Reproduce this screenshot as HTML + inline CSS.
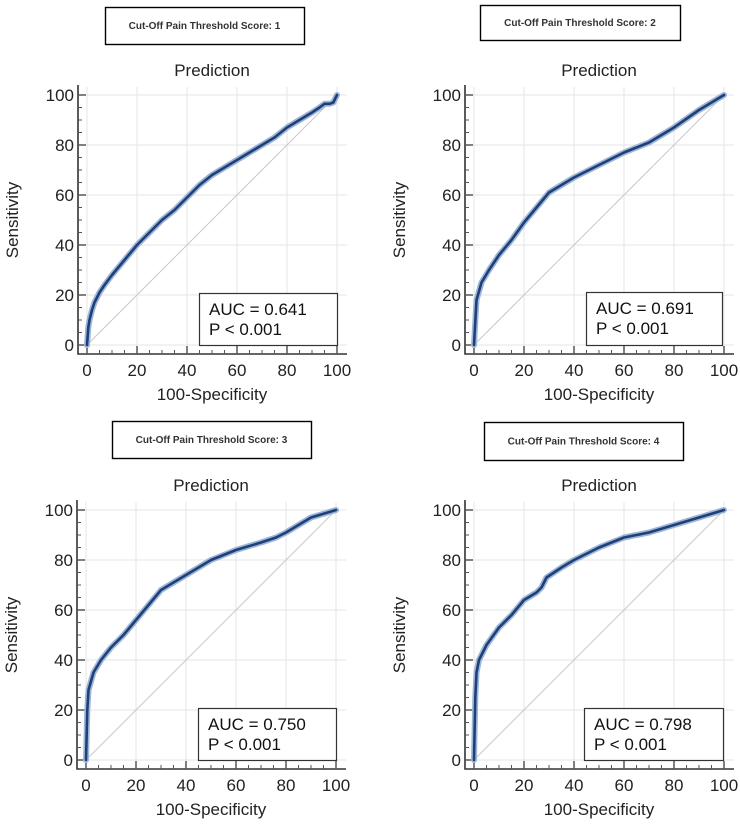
<!DOCTYPE html>
<html><head><meta charset="utf-8">
<style>
body{margin:0;background:#fff;width:740px;height:824px;overflow:hidden;font-family:"Liberation Sans",Arial,sans-serif;}
</style></head>
<body>
<svg id="chart" width="740" height="824" xmlns="http://www.w3.org/2000/svg"></svg>
<script>
// Data: ROC curves (100-specificity, sensitivity) for each cut-off score
const cutoffScores = [1, 2, 3, 4];
const aucValues = ["0.641", "0.691", "0.750", "0.798"];
const pValues = ["< 0.001", "< 0.001", "< 0.001", "< 0.001"];
const xTicks = [0, 20, 40, 60, 80, 100];
const yTicks = [0, 20, 40, 60, 80, 100];
const fpr1 = [0,0.5,1,2,3,5,7,10,15,20,25,30,35,40,45,50,55,60,65,70,75,80,85,90,93,95,97,98.5,100];
const tpr1 = [0,7,10,14,17,21,24,28,34,40,45,50,54,59,64,68,71,74,77,80,83,87,90,93,95,96.5,96.5,97,100];
const fpr2 = [0,1,3,6,10,15,20,25,30,40,50,60,70,80,90,95,100];
const tpr2 = [0,18,25,30,36,42,49,55,61,67,72,77,81,87,94,97,100];
const fpr3 = [0,0.5,1,3,6,10,15,20,25,30,40,50,60,70,76,80,90,100];
const tpr3 = [0,20,28,35,40,45,50,56,62,68,74,80,84,87,89,91,97,100];
const fpr4 = [0,0.5,1,2,5,10,15,20,25,27,29,35,40,50,60,70,80,90,100];
const tpr4 = [0,25,35,40,46,53,58,64,67,69,73,77,80,85,89,91,94,97,100];
const fprs = [fpr1, fpr2, fpr3, fpr4];
const tprs = [tpr1, tpr2, tpr3, tpr4];

const layouts = [
  {ox:87, oy:345, hb:[105,7,199,37], ty:70, ab:[199,293,138,52]},
  {ox:474, oy:345, hb:[480,5,200,35], ty:70, ab:[586,292,136,53]},
  {ox:86, oy:760, hb:[112,421,199,37], ty:485, ab:[198,708,138,52]},
  {ox:474, oy:760, hb:[484,422,199,38], ty:485, ab:[584,708,139,52]}
];
const NS = "http://www.w3.org/2000/svg";
const svg = document.getElementById('chart');
function mk(tag, attrs, parent, text){
  const e = document.createElementNS(NS, tag);
  for (const k in attrs) e.setAttribute(k, attrs[k]);
  if (text !== undefined) e.textContent = text;
  (parent||svg).appendChild(e);
  return e;
}
const S = 2.5;
layouts.forEach((L, i) => {
  const g = mk('g', {});
  
  
  const X = v => L.ox + v * S;
  const Y = v => L.oy - v * S;
  const hb = mk('rect', {x:L.hb[0]+0.5, y:L.hb[1]+0.5, width:L.hb[2], height:L.hb[3], fill:'#fff', stroke:'#000', 'stroke-width':1.4}, g);
  
  
  const ht = mk('text', {x:L.hb[0]+L.hb[2]/2, y:L.hb[1]+L.hb[3]/2+3.5, 'text-anchor':'middle', 'font-size':10, 'font-weight':'bold', fill:'#333'}, g, 'Cut-Off Pain Threshold Score: ' + cutoffScores[i]);
  
  
  const tt = mk('text', {x:X(50), y:L.ty+6, 'text-anchor':'middle', 'font-size':17, fill:'#222'}, g, 'Prediction');
  
  
  xTicks.forEach(t => {
    const gl = mk('line', {x1:X(t), x2:X(t), y1:L.oy-258, y2:L.oy+9, stroke:'#e6e6e6', 'stroke-width':1}, g);
    
    
  });
  yTicks.forEach(t => {
    const gl = mk('line', {x1:L.ox-9, x2:L.ox+260, y1:Y(t), y2:Y(t), stroke:'#e6e6e6', 'stroke-width':1}, g);
    
    
  });
  const dg = mk('line', {x1:X(0), y1:Y(0), x2:X(100), y2:Y(100), stroke:'#c8c8c8', 'stroke-width':1}, g);
  
  
  const ax = mk('path', {d:`M${L.ox-9},${L.oy-260} V${L.oy+9} H${L.ox+260}`, fill:'none', stroke:'#333', 'stroke-width':1.6}, g);
  
  
  for (let t = 0; t <= 100; t += 5) {
    const big = t % 20 === 0;
    mk('line', {x1:X(t), x2:X(t), y1:L.oy+9, y2:L.oy+(big?1:5), stroke:'#555', 'stroke-width':big?1.5:1}, g);
    mk('line', {x1:L.ox-9, x2:L.ox-(big?1:5), y1:Y(t), y2:Y(t), stroke:'#555', 'stroke-width':big?1.5:1}, g);
  }
  xTicks.forEach(t => {
    const tl = mk('text', {x:X(t), y:L.oy+31, 'text-anchor':'middle', 'font-size':17, fill:'#222'}, g, String(t));
    
    
  });
  yTicks.forEach(t => {
    const tl = mk('text', {x:L.ox-13, y:Y(t)+6, 'text-anchor':'end', 'font-size':17, fill:'#222'}, g, String(t));
    
    
  });
  const xl = mk('text', {x:X(50), y:L.oy+55, 'text-anchor':'middle', 'font-size':17, fill:'#222'}, g, '100-Specificity');
  
  
  const yx = L.ox - 69, yy = Y(50);
  const yl = mk('text', {x:yx, y:yy, 'text-anchor':'middle', 'font-size':17, fill:'#222', transform:`rotate(-90 ${yx} ${yy})`}, g, 'Sensitivity');
  
  
  const f = fprs[i], s = tprs[i];
  let d = '';
  f.forEach((v, k) => { d += (k ? 'L' : 'M') + X(v).toFixed(1) + ',' + Y(s[k]).toFixed(1); });
  const band = mk('path', {d:d, fill:'none', stroke:'#9db6d8', 'stroke-width':6, 'stroke-linejoin':'round', 'stroke-linecap':'round'}, g);
  
  
  const ln = mk('path', {d:d, fill:'none', stroke:'#1f3f78', 'stroke-width':2.6, 'stroke-linejoin':'round', 'stroke-linecap':'round'}, g);
  
  
  const ab = mk('rect', {x:L.ab[0]+0.5, y:L.ab[1]+0.5, width:L.ab[2], height:L.ab[3], fill:'#fff', stroke:'#333', 'stroke-width':1.2}, g);
  
  
  const at = mk('text', {x:L.ab[0]+10, y:L.ab[1]+22, 'font-size':17, fill:'#111'}, g, 'AUC = ' + aucValues[i]);
  
  
  const pt = mk('text', {x:L.ab[0]+10, y:L.ab[1]+42, 'font-size':17, fill:'#111'}, g, 'P ' + pValues[i]);
  
  
});
</script>
</body></html>
